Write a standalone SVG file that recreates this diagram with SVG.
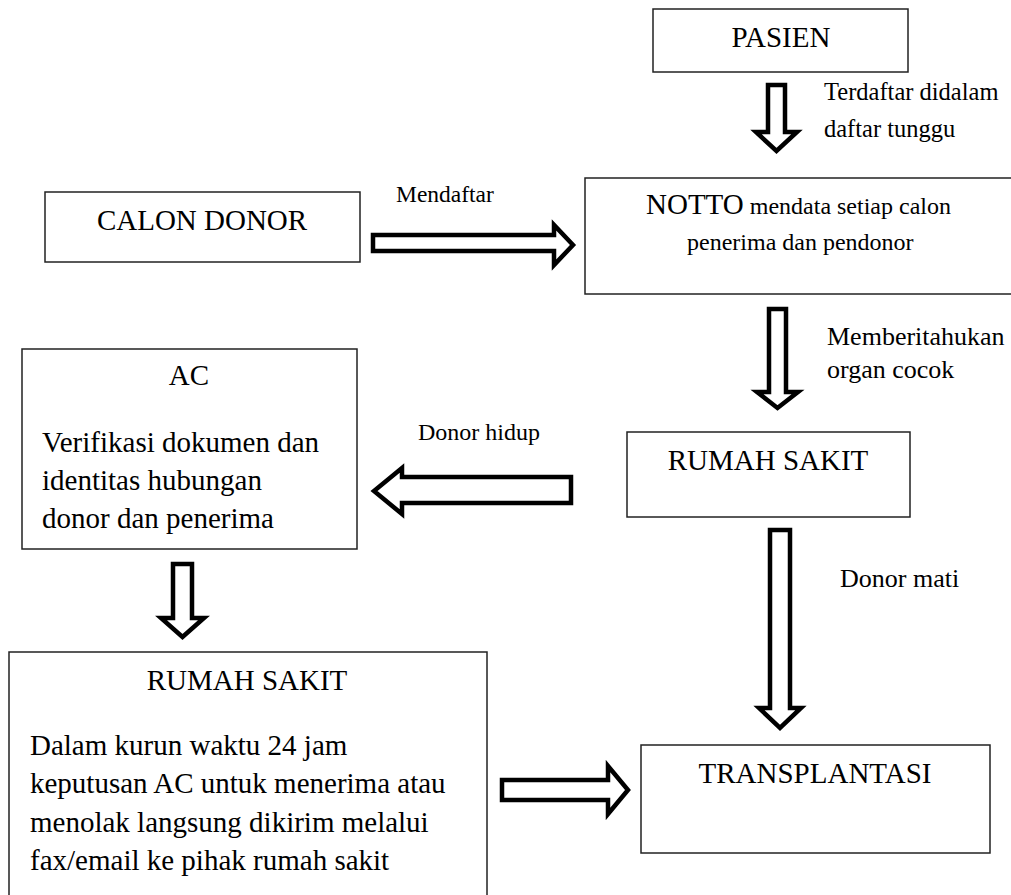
<svg xmlns="http://www.w3.org/2000/svg" width="1011" height="895" viewBox="0 0 1011 895">
<style>
.box{fill:#fff;stroke:#222;stroke-width:1.5}
.arr{fill:#fff;stroke:#000;stroke-width:4.5;stroke-linejoin:miter;stroke-miterlimit:10}
text{font-family:"Liberation Serif","Times New Roman",serif;fill:#000}
.n{font-size:29px}
.b{font-size:29px}
.l{font-size:24.5px}
.m{text-anchor:middle}
</style>
<rect width="1011" height="895" fill="#fff"/>
<g id="connectors">
<polygon class="arr" points="768,85 785,85 785,132 797,132 776.5,151 756,132 768,132"/>
<polygon class="arr" points="373,235 554,235 554,225 573,245 554,265 554,251 373,251"/>
<polygon class="arr" points="769,309 786,309 786,392 798,392 777.5,408 757,392 769,392"/>
<polygon class="arr" points="571,477 402,477 402,468 374,491 402,514 402,503 571,503"/>
<polygon class="arr" points="770,530 790,530 790,708 801,708 780,728 759,708 770,708"/>
<polygon class="arr" points="173,564 192,564 192,618 204,618 182.5,637 161,618 173,618"/>
<polygon class="arr" points="502,780 608,780 608,766 628,790 608,814 608,800 502,800"/>
<text class="l" x="824" y="100">Terdaftar didalam</text>
<text class="l" x="824" y="137">daftar tunggu</text>
<text x="396" y="202" style="font-size:23.5px">Mendaftar</text>
<text x="827" y="345" style="font-size:26px">Memberitahukan</text>
<text x="827" y="378" style="font-size:26px">organ cocok</text>
<text x="418" y="440" style="font-size:24px">Donor hidup</text>
<text x="840" y="587" style="font-size:26px">Donor mati</text>
</g>
<g id="pasien">
<rect class="box" x="653" y="9" width="255" height="63"/>
<text class="n m" x="781" y="47">PASIEN</text>
</g>
<g id="calon-donor">
<rect class="box" x="45" y="192" width="315" height="70"/>
<text class="n m" x="202" y="230">CALON DONOR</text>
</g>
<g id="notto">
<rect class="box" x="585" y="178" width="430" height="116"/>
<text x="646" y="214"><tspan style="font-size:29px">NOTTO</tspan><tspan style="font-size:24px"> mendata setiap calon</tspan></text>
<text x="687" y="250" style="font-size:24px">penerima dan pendonor</text>
</g>
<g id="ac">
<rect class="box" x="22" y="349" width="335" height="200"/>
<text class="n m" x="189" y="385">AC</text>
<text class="b" x="42" y="452">Verifikasi dokumen dan</text>
<text class="b" x="42" y="490">identitas hubungan</text>
<text class="b" x="42" y="528">donor dan penerima</text>
</g>
<g id="rumah-sakit-1">
<rect class="box" x="627" y="432" width="283" height="85"/>
<text class="n m" x="768" y="470">RUMAH SAKIT</text>
</g>
<g id="rumah-sakit-2">
<rect class="box" x="9" y="652" width="478" height="250"/>
<text class="n m" x="247" y="690">RUMAH SAKIT</text>
<text class="b" x="30" y="755">Dalam kurun waktu 24 jam</text>
<text class="b" x="30" y="793">keputusan AC untuk menerima atau</text>
<text class="b" x="30" y="832">menolak langsung dikirim melalui</text>
<text class="b" x="30" y="870">fax/email ke pihak rumah sakit</text>
</g>
<g id="transplantasi">
<rect class="box" x="641" y="745" width="349" height="108"/>
<text class="n m" x="815" y="783">TRANSPLANTASI</text>
</g>
</svg>
